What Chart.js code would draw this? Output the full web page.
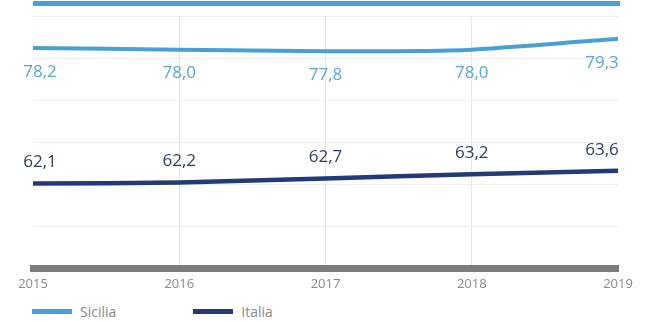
<!DOCTYPE html>
<html>
<head>
<meta charset="utf-8">
<script src="https://cdn.jsdelivr.net/npm/chart.js@4.4.1/dist/chart.umd.min.js"></script>
<style>
    html, body { margin: 0; padding: 0; background: #fff; }
    #wrap { position: relative; width: 652px; height: 322px; font-family: 'Open Sans', sans-serif; }
    #top-bar { position: absolute; left: 33px; top: 1px; width: 587px; height: 5px; background: #4a9fd6; }
    #chart-box { position: absolute; left: 0; top: 0; width: 652px; height: 300px; }
    #legend { position: absolute; left: 32px; top: 302px; display: flex; align-items: center; font-size: 14px; color: #8a8a8a; }
    .item { display: flex; align-items: center; margin-right: 77px; }
    .swatch { width: 40px; height: 5px; margin-right: 8px; }
</style>
</head>
<body>
<div id="wrap">
    <div id="top-bar"></div>
    <div id="chart-box"><canvas id="chart"></canvas></div>
    <div id="legend"></div>
</div>
<script>
const years = ['2015', '2016', '2017', '2018', '2019'];
const sicilia = [78.2, 78.0, 77.8, 78.0, 79.3];
const italia = [62.1, 62.2, 62.7, 63.2, 63.6];
const seriesNames = ['Sicilia', 'Italia'];
const lineColors = ['#4a9fd6', '#233a78'];
const labelColors = ['#5ba6d8', '#2e3d66'];

document.addEventListener('DOMContentLoaded', () => {
    renderLegend();
    renderChart();
});

function fmt(v) {
    return v.toFixed(1).replace('.', ',');
}

function renderLegend() {
    const legend = document.getElementById('legend');
    seriesNames.forEach((name, i) => {
        const item = document.createElement('div');
        item.className = 'item';
        item.innerHTML = `<span class="swatch" style="background:${lineColors[i]}"></span><span>${name}</span>`;
        legend.appendChild(item);
    });
}

function renderChart() {
    const ctx = document.getElementById('chart').getContext('2d');
    const lastIdx = years.length - 1;

    new Chart(ctx, {
        type: 'line',
        data: {
            labels: years,
            datasets: [
                { label: seriesNames[0], data: sicilia, borderColor: lineColors[0], borderWidth: 4, tension: 0.2, pointRadius: 0, fill: false },
                { label: seriesNames[1], data: italia, borderColor: lineColors[1], borderWidth: 4.5, tension: 0.2, pointRadius: 0, fill: false }
            ]
        },
        options: {
            responsive: true,
            maintainAspectRatio: false,
            animation: false,
            layout: { padding: { left: 33, right: 34, top: 16, bottom: 0 } },
            plugins: {
                legend: { display: false },
                tooltip: { enabled: false }
            },
            scales: {
                x: {
                    offset: false,
                    grid: {
                        // no vertical line on the first/last year
                        color: (c) => (c.index === 0 || c.index === lastIdx) ? 'rgba(0,0,0,0)' : '#e6e6e6',
                        drawTicks: false
                    },
                    border: { display: true, color: '#7b7b7b', width: 7 },
                    ticks: { color: '#8a8a8a', font: { family: 'Open Sans', size: 13 }, padding: 8, maxRotation: 0 }
                },
                y: {
                    min: 52,
                    max: 82,
                    grid: { color: '#ececec', drawTicks: false },
                    border: { display: false },
                    ticks: { display: false, stepSize: 5 },
                    afterFit: (axis) => { axis.width = 0; }
                }
            }
        },
        plugins: [{
            id: 'valueLabels',
            afterDatasetsDraw: (chart) => {
                const c = chart.ctx;
                const offsets = [24, -21];
                c.save();
                c.font = '17px "Open Sans"';
                c.textAlign = 'center';
                c.textBaseline = 'middle';
                chart.data.datasets.forEach((dataset, i) => {
                    const meta = chart.getDatasetMeta(i);
                    c.fillStyle = labelColors[i];
                    meta.data.forEach((pt, index) => {
                        const x = Math.min(Math.max(pt.x, 40), 602);
                        c.fillText(fmt(dataset.data[index]), x, pt.y + offsets[i]);
                    });
                });
                c.restore();
            }
        }]
    });
}
</script>
</body>
</html>
